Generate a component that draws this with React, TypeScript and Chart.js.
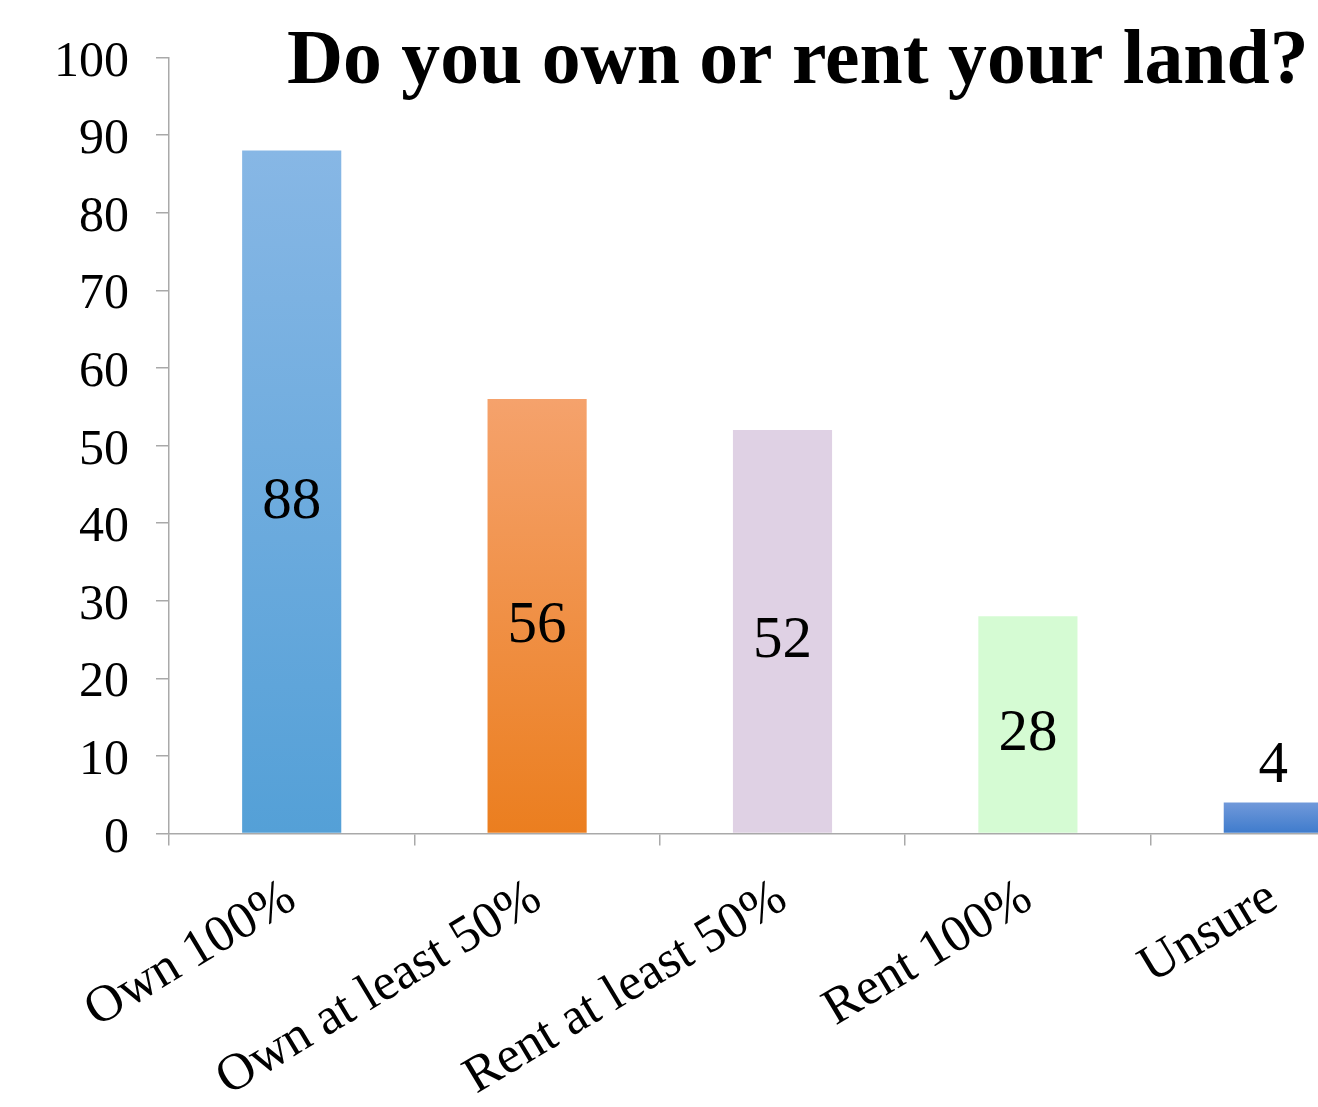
import React, { useEffect, useRef } from "react";
import { Chart, registerables } from "chart.js";

Chart.register(...registerables);

const categories: string[] = ["Own 100%", "Own at least 50%", "Rent at least 50%", "Rent 100%", "Unsure"];
const values: number[] = [88, 56, 52, 28, 4];
const yTicks: number[] = [0, 10, 20, 30, 40, 50, 60, 70, 80, 90, 100];
const titleText = "Do you own or rent your land?";

const topColors = ["#87b7e5", "#f5a26c", "#dfd1e4", "#d5fbd3", "#7199da"];
const bottomColors = ["#54a0d7", "#eb7e1f", "#dfd1e4", "#d5fbd3", "#3e7bcc"];

const SERIF = '"Liberation Serif", "Times New Roman", serif';
const AXIS_COLOR = "#a9a9a9";

const valueLabelPlugin = {
  id: "valueLabels",
  afterDatasetsDraw(chart: any) {
    const ctx = chart.ctx;
    const meta = chart.getDatasetMeta(0);
    ctx.save();
    ctx.fillStyle = "#000";
    ctx.font = `59px ${SERIF}`;
    ctx.textAlign = "center";
    ctx.textBaseline = "alphabetic";
    meta.data.forEach((bar: any, i: number) => {
      const v = values[i];
      const h = bar.base - bar.y;
      if (h > 80) {
        ctx.fillText(String(v), bar.x, (bar.y + bar.base) / 2 + 26);
      } else {
        ctx.fillText(String(v), bar.x, bar.y - 20);
      }
    });
    ctx.restore();
  },
};

const titlePlugin = {
  id: "freeTitle",
  afterDraw(chart: any) {
    const ctx = chart.ctx;
    ctx.save();
    ctx.fillStyle = "#000";
    ctx.font = `bold 77.7px ${SERIF}`;
    ctx.textAlign = "left";
    ctx.textBaseline = "alphabetic";
    ctx.fillText(titleText, 287, 83);
    ctx.restore();
  },
};

export default function App() {
  const canvasRef = useRef<HTMLCanvasElement | null>(null);

  useEffect(() => {
    const canvas = canvasRef.current;
    if (!canvas) return;
    const chart = new Chart(canvas, {
      type: "bar",
      data: {
        labels: categories,
        datasets: [
          {
            data: values,
            borderWidth: 0,
            categoryPercentage: 1,
            barPercentage: 0.404,
            backgroundColor: (c: any) => {
              const chartObj = c.chart;
              const i = c.dataIndex ?? 0;
              const ys = chartObj.scales?.y;
              if (!ys || !chartObj.chartArea) return topColors[i];
              const top = ys.getPixelForValue(values[i]);
              const bottom = ys.getPixelForValue(0);
              const g = chartObj.ctx.createLinearGradient(0, top, 0, bottom);
              g.addColorStop(0, topColors[i]);
              g.addColorStop(1, bottomColors[i]);
              return g;
            },
          },
        ],
      },
      options: {
        responsive: false,
        animation: false,
        devicePixelRatio: 1,
        layout: { padding: { top: 57.5, left: 0, right: 0, bottom: 0 } },
        plugins: {
          legend: { display: false },
          title: { display: false },
          tooltip: { enabled: false },
        },
        scales: {
          x: {
            offset: true,
            grid: {
              offset: true,
              drawOnChartArea: false,
              drawTicks: true,
              tickLength: 12,
              color: AXIS_COLOR,
              lineWidth: 1.5,
            },
            border: { display: true, color: AXIS_COLOR, width: 1.5 },
            ticks: {
              color: "#000",
              font: { family: SERIF, size: 52 },
              minRotation: 31,
              maxRotation: 31,
              autoSkip: false,
              padding: 22,
            },
            afterFit(scale: any) {
              scale.height = 273.5;
            },
          },
          y: {
            min: 0,
            max: 100,
            afterBuildTicks(scale: any) {
              scale.ticks = yTicks.map((v) => ({ value: v }));
            },
            grid: {
              drawOnChartArea: false,
              drawTicks: true,
              tickLength: 13,
              color: AXIS_COLOR,
              lineWidth: 1.5,
            },
            border: { display: true, color: AXIS_COLOR, width: 1.5 },
            ticks: {
              color: "#000",
              font: { family: SERIF, size: 50, lineHeight: 0.2 },
              padding: 27,
              callback: (v: any) => ["", String(v)],
            },
            afterFit(scale: any) {
              scale.width = 169;
            },
          },
        },
      },
      plugins: [valueLabelPlugin, titlePlugin],
    });
    return () => chart.destroy();
  }, []);

  return (
    <div
      style={{
        position: "absolute",
        left: 0,
        top: 0,
        width: 1318,
        height: 1107,
        overflow: "hidden",
        background: "#fff",
      }}
    >
      <canvas ref={canvasRef} width={1396} height={1107} style={{ display: "block" }} />
    </div>
  );
}
